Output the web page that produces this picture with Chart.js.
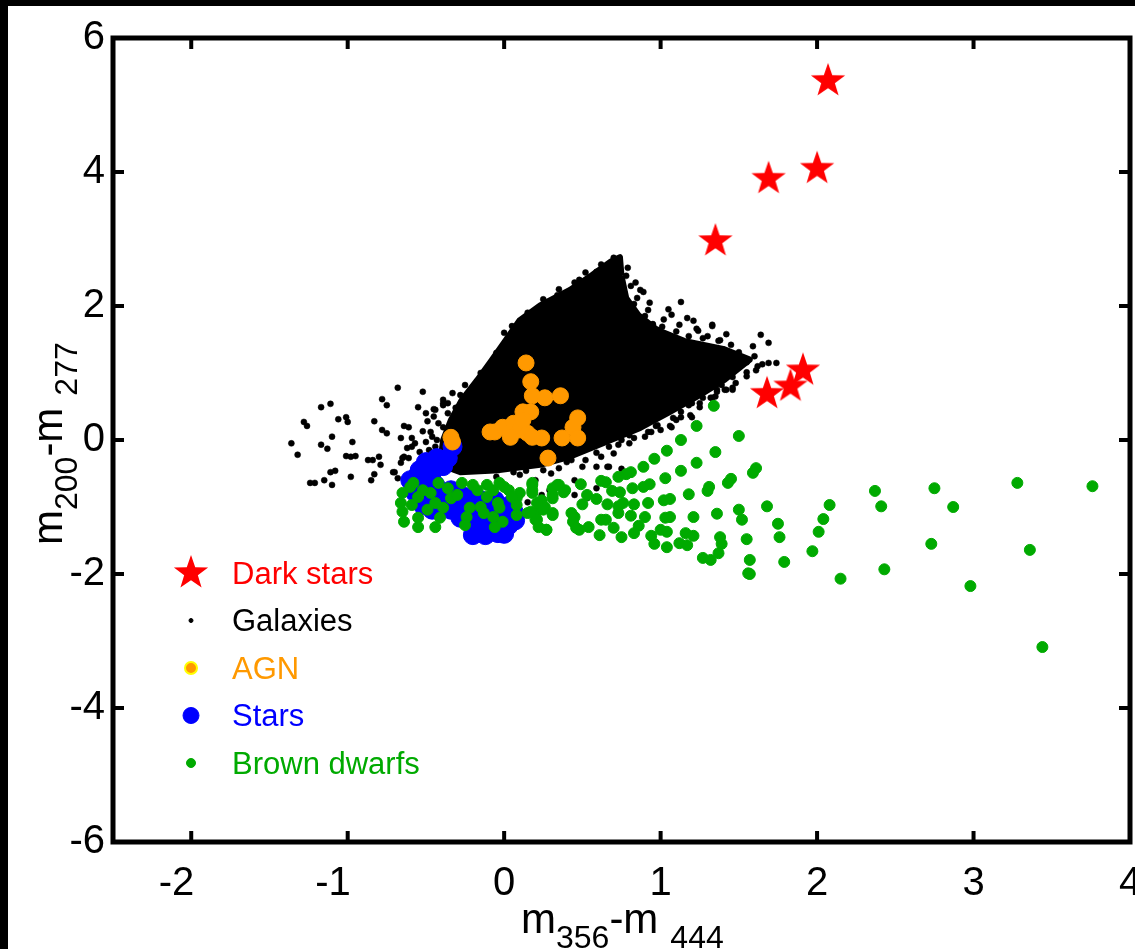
<!DOCTYPE html>
<html>
<head>
<meta charset="utf-8">
<script src="https://cdn.jsdelivr.net/npm/chart.js@4.4.0/dist/chart.umd.min.js"></script>
<style>
html, body { margin: 0; padding: 0; background: #fff; }
</style>
</head>
<body>
<canvas id="myChart" width="1135" height="949"></canvas>
<script>
// tick values
var xTicks = [-2, -1, 0, 1, 2, 3, 4];
var yTicks = [-6, -4, -2, 0, 2, 4, 6];

var seriesNames = ["Dark stars", "Galaxies", "AGN", "Stars", "Brown dwarfs"];
var seriesColors = ["#ff0000", "#000000", "#ff9900", "#0000ff", "#00aa00"];

// [x, y] = [m356-m444, m200-m277]
var darkStars = [[2.07, 5.36], [2.0, 4.05], [1.69, 3.9], [1.35, 2.97], [1.91, 1.04], [1.83, 0.8], [1.68, 0.69]];

// outline of the saturated part of the galaxy cloud
var galaxyCore = [
    [-0.41, -0.37], [-0.39, 0.0], [-0.34, 0.30], [-0.27, 0.60], [-0.17, 0.90], [-0.08, 1.19],
    [0.01, 1.49], [0.10, 1.79], [0.23, 2.01], [0.42, 2.24], [0.56, 2.46], [0.68, 2.66],
    [0.74, 2.73], [0.75, 2.45], [0.78, 2.12], [0.86, 1.86], [0.98, 1.64], [1.15, 1.48],
    [1.40, 1.36], [1.57, 1.20], [1.41, 0.90], [1.25, 0.67], [1.06, 0.42], [0.87, 0.18],
    [0.64, -0.04], [0.42, -0.25], [0.23, -0.37], [-0.03, -0.45], [-0.28, -0.48], [-0.41, -0.37]
];

var galaxies = [
    [-0.68, 0.78], [-0.52, 0.72], [-0.78, 0.61], [-0.75, 0.52], [-1.11, 0.54], [-1.17, 0.49],
    [-0.55, 0.49], [-0.45, 0.46], [-0.39, 0.60], [-0.39, 0.52], [-0.28, 0.67], [-0.26, 0.60],
    [-1.28, 0.27], [-1.26, 0.21], [-1.06, 0.31], [-1.01, 0.34], [-1.00, 0.27], [-0.83, 0.28],
    [-0.64, 0.21], [-0.61, 0.19], [-0.49, 0.28], [-0.39, 0.19], [-0.78, 0.15], [-0.75, 0.10],
    [-0.52, 0.13], [-0.47, 0.12], [-1.10, 0.05], [-0.66, 0.03], [-0.59, 0.03], [-1.36, -0.05],
    [-1.17, -0.07], [-1.13, -0.13], [-0.97, -0.03], [-0.57, -0.05], [-0.50, -0.03], [-0.43, 0.0],
    [-1.32, -0.22], [-1.01, -0.24], [-0.98, -0.25], [-0.95, -0.24], [-0.87, -0.30], [-0.84, -0.30],
    [-0.80, -0.25], [-0.79, -0.37], [-0.62, -0.12], [-0.64, -0.25], [-0.61, -0.27], [-0.66, -0.34],
    [-0.54, -0.18], [-1.11, -0.48], [-1.08, -0.46], [-0.98, -0.55], [-0.85, -0.60], [-0.83, -0.51],
    [-0.71, -0.48], [-1.24, -0.64], [-1.21, -0.64], [-1.15, -0.60], [-1.10, -0.67], [-0.68, -0.57],
    [-0.44, 0.45], [-0.39, 0.55], [-0.31, 0.48], [-0.20, 0.79], [-0.07, 0.92], [-0.13, 0.64],
    [0.10, 1.75], [0.23, 1.90], [0.34, 2.16], [0.48, 2.39], [0.59, 2.51], [0.79, 2.57],
    [0.73, 2.39], [0.69, 2.21], [0.87, 2.24], [0.89, 2.21], [0.83, 2.03], [0.92, 1.94],
    [0.76, 1.88], [0.77, 1.79], [0.89, 1.64], [0.94, 1.49], [0.95, 1.24], [0.66, 2.28],
    [0.63, 2.06], [0.66, 1.90], [0.58, 1.97], [0.57, 2.16], [0.95, 1.73], [1.07, 1.87],
    [1.13, 2.06], [1.17, 1.82], [1.24, 1.63], [1.27, 1.52], [1.33, 1.70], [1.37, 1.48],
    [0.99, 1.64], [1.01, 1.42], [0.83, 1.42], [0.89, 1.30], [0.96, 1.42], [1.20, 1.31],
    [1.22, 1.16], [1.29, 1.09], [1.36, 1.12], [1.42, 1.15], [1.50, 1.31], [1.52, 1.22],
    [1.55, 1.01], [1.46, 0.94], [1.39, 0.82], [1.36, 0.75], [1.33, 0.63], [1.20, 0.55],
    [1.13, 0.42], [1.20, 0.34], [1.07, 0.19], [0.94, 0.12], [0.83, 0.03], [0.73, -0.07],
    [1.64, 1.57], [1.69, 1.45], [1.59, 1.40], [1.55, 1.16], [1.61, 1.04], [1.69, 1.15],
    [1.74, 1.15], [1.65, 1.13], [1.46, 0.75], [1.42, 0.75], [1.36, 0.72], [1.27, 0.63],
    [1.25, 0.49], [1.13, 0.34], [1.06, 0.21], [0.97, 0.21], [0.92, 0.12], [0.66, -0.40],
    [0.75, -0.43], [1.23, 1.66], [1.33, 1.72], [1.38, 1.49], [1.25, 1.42], [1.18, 1.31],
    [0.95, 1.72], [1.01, 1.69], [0.80, 1.61], [0.76, 1.67], [0.95, 1.45], [0.99, 1.30],
    [1.09, 1.16], [1.06, 1.07], [1.41, 0.75], [1.46, 0.78], [1.32, 0.63], [1.18, 0.52],
    [1.19, 0.37], [1.08, 0.33], [0.98, 0.22], [0.80, 0.07], [0.75, 0.0], [0.67, -0.10],
    [0.59, -0.19], [0.52, -0.30], [0.43, -0.30], [0.40, -0.33], [0.67, -0.40], [0.59, -0.40],
    [0.45, -0.60], [0.25, -0.45], [0.14, -0.46], [0.06, -0.48], [0.20, -0.60], [0.0, -0.40],
    [0.15, -0.93], [0.24, -0.82], [0.45, -0.82], [0.53, -0.87], [0.59, -0.72], [0.29, -0.75],
    [-0.65, -0.27], [-0.59, -0.10], [-0.70, -0.48],
    [-0.45, 0.35], [-0.42, 0.25], [-0.46, 0.05], [-0.44, -0.10], [-0.48, -0.15], [-0.42, -0.30],
    [-0.50, 0.40], [-0.36, 0.40], [-0.33, 0.70], [-0.25, 0.82], [-0.15, 1.0], [-0.10, 1.10],
    [-0.05, 1.30], [0.0, 1.60], [0.05, 1.70], [0.15, 1.90], [0.25, 2.10], [0.35, 2.25],
    [0.45, 2.35], [0.52, 2.50], [0.62, 2.62], [0.70, 2.72], [0.50, -0.40], [0.35, -0.42],
    [0.30, -0.50], [0.10, -0.52], [-0.05, -0.55], [0.62, -0.25], [0.70, -0.20], [0.80, -0.05],
    [0.90, 0.05], [1.00, 0.15], [1.10, 0.30], [1.25, 0.55], [1.35, 0.65], [1.48, 0.85],
    [1.55, 0.95], [1.62, 1.10], [1.60, 1.25], [0.78, 2.45], [0.81, 2.30], [0.85, 2.12],
    [0.90, 1.85], [1.02, 1.80], [1.10, 1.62], [1.18, 1.55], [1.30, 1.55], [1.45, 1.42],
    [-0.36, 0.55], [-0.22, 0.72], [-0.12, 0.95], [-0.03, 1.15],
    [0.84, 2.35], [0.93, 2.05], [1.05, 1.95], [1.12, 1.72], [1.21, 1.78], [1.42, 1.58]
];

var agn = [
    [0.14, 1.15], [0.17, 0.87], [0.18, 0.66], [0.26, 0.63], [0.36, 0.66], [0.12, 0.42],
    [0.17, 0.42], [-0.01, 0.19], [-0.06, 0.12], [-0.09, 0.12], [0.06, 0.25], [0.10, 0.15],
    [0.15, 0.10], [0.18, 0.04], [0.24, 0.03], [0.04, 0.04], [0.37, 0.03], [0.47, 0.33],
    [0.44, 0.19], [0.47, 0.03], [0.28, -0.27], [-0.34, 0.04], [-0.33, -0.03], [0.12, 0.30]
];

var stars = [
    [-0.33, -0.10], [-0.36, -0.27], [-0.39, -0.39], [-0.54, -0.45], [-0.46, -0.48], [-0.60, -0.60],
    [-0.52, -0.64], [-0.44, -0.67], [-0.57, -0.78], [-0.48, -0.82], [-0.41, -0.82], [-0.38, -0.90],
    [-0.31, -0.94], [-0.34, -1.04], [-0.27, -1.01], [-0.22, -1.07], [-0.28, -1.16], [-0.18, -1.19],
    [-0.12, -1.22], [-0.17, -1.34], [-0.09, -1.34], [-0.03, -1.27], [0.01, -1.12], [0.04, -0.97],
    [-0.03, -1.00], [-0.09, -1.07], [-0.06, -0.90], [0.03, -1.27], [-0.04, -1.39], [-0.12, -1.42],
    [0.06, -1.07], [-0.34, -0.75], [-0.25, -0.85], [-0.15, -0.90], [-0.12, -0.97], [-0.50, -0.33],
    [-0.43, -0.27], [-0.52, -0.97], [-0.46, -1.04], [-0.41, -1.00], [-0.20, -1.42], [0.0, -1.40],
    [0.07, -1.20], [-0.45, -0.38], [-0.55, -0.52]
];

var brownDwarfs = [
    [1.34, 0.51], [1.23, 0.21], [1.50, 0.06], [1.13, 0.0], [1.04, -0.16], [1.35, -0.18],
    [0.96, -0.28], [1.23, -0.34], [1.61, -0.42], [1.59, -0.49], [0.89, -0.40], [0.81, -0.48],
    [0.78, -0.51], [1.13, -0.46], [1.03, -0.57], [1.45, -0.58], [1.43, -0.64], [0.73, -0.55],
    [0.62, -0.61], [0.65, -0.63], [0.93, -0.66], [0.89, -0.70], [0.82, -0.72], [1.31, -0.70],
    [1.30, -0.76], [1.18, -0.81], [0.69, -0.76], [0.74, -0.78], [0.49, -0.66], [0.53, -0.82],
    [0.59, -0.88], [0.39, -0.75], [0.35, -0.67], [0.31, -0.72], [0.31, -0.82], [0.18, -0.64],
    [0.18, -0.75], [0.10, -0.79], [0.08, -0.87], [0.0, -0.70], [1.06, -0.88], [1.02, -0.90],
    [0.92, -0.94], [0.83, -0.96], [0.76, -0.94], [0.66, -0.96], [0.73, -0.99], [0.50, -0.96],
    [0.26, -1.00], [0.31, -1.12], [0.24, -0.90], [0.15, -1.09], [0.21, -1.07], [1.68, -0.99],
    [1.36, -1.10], [1.50, -1.04], [1.21, -1.15], [1.06, -1.15], [1.03, -1.16], [0.90, -1.15],
    [0.81, -1.13], [0.73, -1.09], [0.62, -1.19], [0.65, -1.19], [0.45, -1.15], [0.44, -1.22],
    [0.20, -1.19], [0.22, -1.30], [2.08, -0.97], [2.37, -0.76], [2.41, -0.99], [2.75, -0.72],
    [2.87, -1.00], [3.28, -0.64], [3.76, -0.69], [2.04, -1.18], [1.52, -1.19], [1.75, -1.25],
    [2.01, -1.37], [0.86, -1.28], [0.70, -1.31], [1.00, -1.34], [1.04, -1.37], [0.54, -1.30],
    [0.48, -1.34], [0.61, -1.42], [0.75, -1.45], [0.83, -1.39], [0.94, -1.43], [1.16, -1.39],
    [1.21, -1.43], [1.38, -1.45], [1.39, -1.55], [1.55, -1.48], [1.76, -1.45], [0.27, -1.34],
    [0.96, -1.55], [1.04, -1.60], [1.12, -1.54], [1.17, -1.57], [1.97, -1.66], [2.73, -1.55],
    [3.36, -1.64], [1.27, -1.76], [1.32, -1.79], [1.37, -1.69], [1.57, -1.79], [1.79, -1.82],
    [1.56, -1.99], [1.57, -2.00], [2.43, -1.93], [2.15, -2.07], [2.98, -2.18], [3.44, -3.09],
    [-0.65, -0.79], [-0.66, -0.94], [-0.65, -1.07], [-0.64, -1.22], [-0.60, -0.70], [-0.58, -0.64],
    [-0.55, -0.85], [-0.59, -0.97], [-0.55, -1.16], [-0.55, -1.30], [-0.52, -0.75], [-0.47, -0.79],
    [-0.49, -1.04], [-0.42, -0.64], [-0.36, -0.72], [-0.44, -0.94], [-0.39, -1.01], [-0.41, -1.16],
    [-0.44, -1.30], [-0.34, -0.87], [-0.27, -0.64], [-0.30, -0.82], [-0.20, -0.67], [-0.17, -0.75],
    [-0.11, -0.67], [-0.22, -1.01], [-0.24, -1.15], [-0.25, -1.27], [-0.15, -1.00], [-0.13, -1.09],
    [-0.11, -0.85], [-0.07, -0.75], [-0.03, -0.64], [-0.04, -0.94], [-0.07, -1.15], [-0.06, -1.30],
    [-0.03, -1.01], [-0.01, -1.22], [0.03, -0.75], [0.05, -0.85], [0.08, -0.97], [0.08, -1.12],
    [0.18, -0.67], [0.18, -0.79], [0.21, -0.94], [0.17, -1.07], [0.21, -1.19], [0.27, -1.34],
    [0.25, -1.04], [0.31, -0.87], [0.34, -0.67], [0.31, -1.09], [0.38, -0.78], [0.43, -1.09],
    [0.46, -1.31]
];

function toPts(arr) {
    return arr.map(function (p) { return { x: p[0], y: p[1] }; });
}

// filled five pointed star used as the marker for dark stars
function makeStar(r, color) {
    var c = document.createElement("canvas");
    c.width = c.height = Math.ceil(2 * r + 2);
    var g = c.getContext("2d");
    var m = c.width / 2;
    g.beginPath();
    for (var i = 0; i < 10; i++) {
        var rr = i % 2 ? r * 0.4 : r;
        var ang = -Math.PI / 2 + i * Math.PI / 5;
        g.lineTo(m + rr * Math.cos(ang), m + rr * Math.sin(ang));
    }
    g.closePath();
    g.fillStyle = color;
    g.fill();
    return c;
}
var starImg = makeStar(18, seriesColors[0]);

var FONT = "'Liberation Sans', Arial, sans-serif";

function drawParts(ctx, parts) {
    var cx = 0;
    parts.forEach(function (p) {
        if (p.gap) { cx += p.gap; return; }
        ctx.font = (p.sub ? "32px " : "42px ") + FONT;
        ctx.fillText(p.t, cx, p.sub ? 15 : 0);
        cx += ctx.measureText(p.t).width;
    });
}

var boxPlugin = {
    id: "box",
    afterDraw: function (chart) {
        var ctx = chart.ctx, a = chart.chartArea;
        var xs = chart.scales.x, ys = chart.scales.y;
        ctx.save();
        ctx.fillStyle = "#000";
        ctx.fillRect(0, 0, chart.width, 6);
        ctx.fillRect(0, 0, 8, chart.height);

        ctx.strokeStyle = "#000";
        ctx.lineWidth = 4;
        ctx.beginPath();
        xTicks.forEach(function (v) {
            var px = xs.getPixelForValue(v);
            ctx.moveTo(px, a.bottom); ctx.lineTo(px, a.bottom - 11);
            ctx.moveTo(px, a.top); ctx.lineTo(px, a.top + 11);
        });
        yTicks.forEach(function (v) {
            var py = ys.getPixelForValue(v);
            ctx.moveTo(a.left, py); ctx.lineTo(a.left + 11, py);
            ctx.moveTo(a.right, py); ctx.lineTo(a.right - 11, py);
        });
        ctx.stroke();
        ctx.lineWidth = 5;
        ctx.strokeRect(a.left, a.top, a.right - a.left, a.bottom - a.top);

        // x tick labels (negative labels sit left of their tick, as in the original)
        ctx.fillStyle = "#000";
        ctx.font = "40px " + FONT;
        ctx.textBaseline = "alphabetic";
        xTicks.forEach(function (v) {
            var px = xs.getPixelForValue(v);
            ctx.textAlign = v < 0 ? "right" : "center";
            ctx.fillText(String(v), v < 0 ? px + 3 : px, 895);
        });

        // axis titles with subscripts
        ctx.textAlign = "left";
        ctx.save();
        ctx.translate(521, 933);
        drawParts(ctx, [{ t: "m" }, { t: "356", sub: 1 }, { t: "-m" }, { gap: 12 }, { t: "444", sub: 1 }]);
        ctx.restore();
        ctx.save();
        ctx.translate(62, 545);
        ctx.rotate(-Math.PI / 2);
        drawParts(ctx, [{ t: "m" }, { t: "200", sub: 1 }, { t: "-m" }, { gap: 12 }, { t: "277", sub: 1 }]);
        ctx.restore();

        // legend inside the axes
        var markers = [
            { pointStyle: starImg, radius: 18 },
            { pointStyle: "circle", radius: 2, backgroundColor: "#000", borderColor: "#000", borderWidth: 1 },
            { pointStyle: "circle", radius: 6, backgroundColor: "#ff9900", borderColor: "#ffff00", borderWidth: 2 },
            { pointStyle: "circle", radius: 8, backgroundColor: "#0000ff", borderColor: "#0000ff", borderWidth: 1 },
            { pointStyle: "circle", radius: 4.5, backgroundColor: "#00aa00", borderColor: "#00aa00", borderWidth: 1 }
        ];
        ctx.textBaseline = "middle";
        ctx.font = "31px " + FONT;
        seriesNames.forEach(function (name, i) {
            var y = 573 + i * 47.5;
            var mk = markers[i];
            ctx.fillStyle = mk.backgroundColor || seriesColors[i];
            ctx.strokeStyle = mk.borderColor || seriesColors[i];
            ctx.lineWidth = mk.borderWidth || 1;
            Chart.helpers.drawPoint(ctx, { pointStyle: mk.pointStyle, radius: mk.radius, rotation: 0, borderWidth: mk.borderWidth || 0 }, 191, y);
            ctx.fillStyle = seriesColors[i];
            ctx.fillText(name, 232, y + 2);
        });
        ctx.restore();
    }
};

new Chart("myChart", {
    type: "scatter",
    data: {
        datasets: [
            {
                label: seriesNames[0], data: toPts(darkStars), order: 1,
                pointStyle: starImg, pointRadius: 18
            },
            {
                label: seriesNames[2], data: toPts(agn), order: 2,
                pointRadius: 8, backgroundColor: "#ff9900", borderColor: "#ff9900", borderWidth: 1
            },
            {
                label: seriesNames[4], data: toPts(brownDwarfs), order: 3,
                pointRadius: 5.5, backgroundColor: "#00aa00", borderColor: "#00aa00", borderWidth: 1
            },
            {
                label: seriesNames[3], data: toPts(stars), order: 4,
                pointRadius: 9.5, backgroundColor: "#0000ff", borderColor: "#0000ff", borderWidth: 1
            },
            {
                label: seriesNames[1], data: toPts(galaxies), order: 5,
                pointRadius: 3, backgroundColor: "#000", borderColor: "#000", borderWidth: 0.5
            },
            {
                type: "line", label: "Galaxies (dense)", data: toPts(galaxyCore), order: 6,
                showLine: true, fill: "shape", tension: 0, pointRadius: 0,
                backgroundColor: "#000", borderColor: "#000", borderWidth: 6, borderJoinStyle: "round"
            }
        ]
    },
    options: {
        responsive: false,
        animation: false,
        layout: { autoPadding: false, padding: { top: 38, right: 5, left: 0, bottom: 0 } },
        plugins: {
            legend: { display: false },
            tooltip: { enabled: false }
        },
        scales: {
            x: {
                type: "linear", min: -2.5, max: 4,
                afterBuildTicks: function (s) { s.ticks = xTicks.map(function (v) { return { value: v }; }); },
                afterFit: function (s) { s.height = 107; s.paddingLeft = 0; s.paddingRight = 0; },
                grid: { display: false, drawTicks: false },
                border: { display: false },
                ticks: { display: false }
            },
            y: {
                type: "linear", min: -6, max: 6,
                afterBuildTicks: function (s) { s.ticks = yTicks.map(function (v) { return { value: v }; }); },
                afterFit: function (s) { s.width = 113; s.paddingTop = 0; s.paddingBottom = 0; },
                grid: { display: false, drawTicks: false },
                border: { display: false },
                ticks: { color: "#000", font: { family: FONT, size: 40 }, padding: 8, autoSkip: false }
            }
        }
    },
    plugins: [boxPlugin]
});
</script>
</body>
</html>
